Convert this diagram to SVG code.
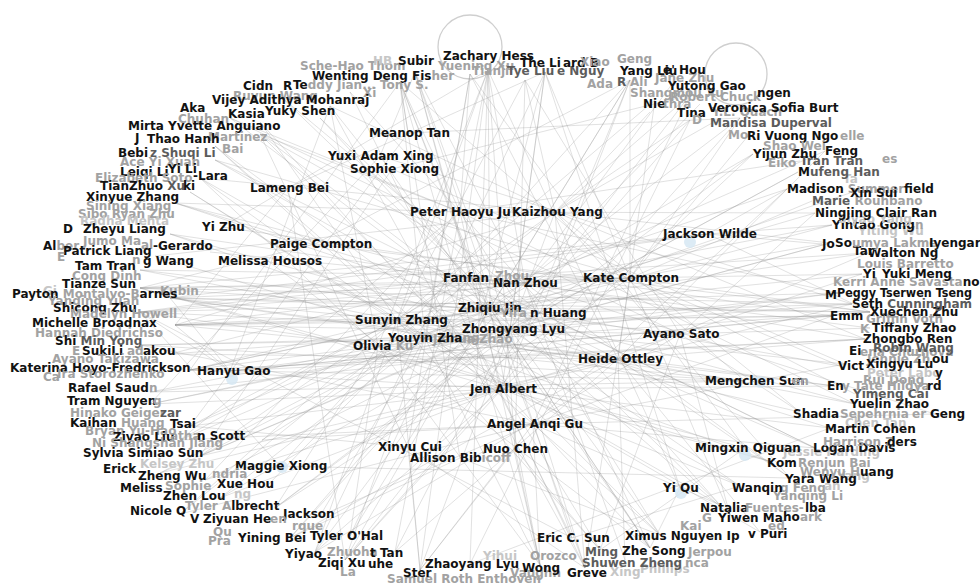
<svg xmlns="http://www.w3.org/2000/svg" width="980" height="586" viewBox="0 0 980 586">
<style>
text{font-family:"DejaVu Sans","Liberation Sans",sans-serif;font-weight:700;font-size:12px}
.b{fill:#121212}.d{fill:#5c5c5c}.g{fill:#a2a2a2}.l{fill:#c6c6c6}
.e path{fill:none;stroke:#8f8f8f;stroke-opacity:.3;stroke-width:.9}
.loop{fill:none;stroke:#cfcfcf;stroke-width:1.3}
.dot{fill:#d3e6f3;opacity:.8}
</style>
<rect width="980" height="586" fill="#fff"/>
<g id="connectors" class="e">
<circle class="loop" cx="470" cy="47" r="32"/>
<circle class="loop" cx="736" cy="74" r="31"/>
<path d="M490 308L488 70M490 308L400 82M490 308L630 80M490 308L330 106M490 308L260 134M490 308L175 203M490 308L170 298M490 308L175 325M490 308L190 370M490 308L180 440M490 308L200 456M490 308L290 538M490 308L345 560M490 308L540 565M490 308L650 548M490 308L730 515M490 308L815 448M490 308L855 404M490 308L870 312M490 308L868 253M490 308L815 213M490 308L753 154M490 308L740 118"/>
<path d="M510 329L415 72M510 329L545 72M510 329L690 95M510 329L230 118M510 329L215 160M510 329L170 234M510 329L140 312M510 329L170 354M510 329L150 404M510 329L205 480M510 329L275 508M510 329L395 552M510 329L585 568M510 329L660 535M510 329L740 486M510 329L830 428M510 329L845 364M510 329L852 304M510 329L830 243M510 329L798 172M510 329L690 120"/>
<path d="M397 320L488 70M397 320L525 80M397 320L655 100M397 320L260 122M397 320L200 178M397 320L140 270M397 320L170 298M397 320L175 325M397 320L190 370M397 320L190 426M397 320L180 514M397 320L315 552M397 320L420 570M397 320L600 550M397 320L720 505M397 320L800 412M397 320L832 316M397 320L862 274M397 320L787 189"/>
<path d="M425 338L400 82M425 338L470 74M425 338L215 146M425 338L190 192M425 338L155 256M425 338L140 345M425 338L150 392M425 338L262 440M425 338L220 498M425 338L320 516M425 338L345 560M425 338L540 565M425 338L760 532M425 338L772 462M425 338L835 386M425 338L838 293M425 338L850 193"/>
<path d="M525 283L488 70M525 283L700 104M525 283L260 134M525 283L210 252M525 283L140 288M525 283L175 325M525 283L160 473M525 283L290 538M525 283L625 560M525 283L790 478M525 283L935 414M525 283L865 339M525 283L832 225M525 283L825 151M525 283L675 80"/>
<path d="M470 278L415 72M470 278L280 96M470 278L320 118M470 278L175 203M470 278L170 234M470 278L140 312M470 278L170 354M470 278L180 440M470 278L265 488M470 278L350 536M470 278L650 548M470 278L815 448M470 278L870 328M470 278L868 253"/>
<path d="M630 278L545 72M630 278L630 80M630 278L740 118M630 278L748 136M630 278L812 201M630 278L822 244M630 278L862 274M630 278L870 312M630 278L840 366M630 278L855 394M630 278L170 298M630 278L140 312M630 278L190 370M630 278L140 288M630 278L140 270M630 278L215 160M630 278L275 508M630 278L585 568M630 278L730 515"/>
<path d="M460 212L488 70M460 212L400 82M460 212L470 74M460 212L350 92M460 212L230 118M460 212L260 134M460 212L175 203M460 212L180 440M460 212L205 480M460 212L395 552M460 212L540 565M460 212L660 535M460 212L720 505M460 212L855 404M460 212L838 293M460 212L815 213M460 212L800 161"/>
<path d="M555 212L525 80M555 212L690 95M555 212L690 120M555 212L650 112M555 212L330 106M555 212L200 178M555 212L155 256M555 212L175 325M555 212L200 456M555 212L180 514M555 212L420 570M555 212L585 568M555 212L790 478M555 212L800 412M555 212L865 339M555 212L830 243M555 212L712 123"/>
<path d="M502 389L415 72M502 389L545 72M502 389L630 80M502 389L260 122M502 389L190 192M502 389L140 288M502 389L190 370M502 389L150 404M502 389L190 426M502 389L160 473M502 389L220 498M502 389L315 552M502 389L345 560M502 389L600 550M502 389L650 548M502 389L740 486M502 389L772 462M502 389L830 428M502 389L835 386M502 389L852 304M502 389L753 154"/>
<path d="M533 424L400 82M533 424L690 95M533 424L215 146M533 424L140 345M533 424L180 440M533 424L262 440M533 424L180 514M533 424L320 516M533 424L420 570M533 424L540 565M533 424L585 568M533 424L660 535M533 424L720 505M533 424L815 448M533 424L935 414M533 424L845 364M533 424L832 316M533 424L787 189"/>
<path d="M618 359L470 74M618 359L655 100M618 359L215 160M618 359L170 298M618 359L170 354M618 359L200 456M618 359L290 538M618 359L395 552M618 359L625 560M618 359L760 532M618 359L790 478M618 359L855 404M618 359L865 339M618 359L868 253M618 359L825 151"/>
<path d="M680 334L525 80M680 334L230 118M680 334L140 270M680 334L175 325M680 334L150 392M680 334L205 480M680 334L315 552M680 334L600 550M680 334L730 515M680 334L800 412M680 334L870 328M680 334L862 274M680 334L815 213"/>
<path d="M378 346L488 70M378 346L330 106M378 346L200 178M378 346L140 312M378 346L190 370M378 346L190 426M378 346L275 508M378 346L350 536M378 346L540 565M378 346L772 462M378 346L870 312M378 346L832 225"/>
<path d="M540 313L415 72M540 313L630 80M540 313L280 96M540 313L175 203M540 313L140 288M540 313L175 325M540 313L200 456M540 313L220 498M540 313L345 560M540 313L650 548M540 313L815 448M540 313L840 366M540 313L852 304M540 313L798 172"/>
<path d="M475 339L545 72M475 339L215 146M475 339L170 234M475 339L140 345M475 339L150 404M475 339L160 473M475 339L315 552M475 339L585 568M475 339L740 486M475 339L835 386M475 339L830 243"/>
<path d="M230 371L170 298M230 371L140 312M230 371L175 325M230 371L330 106M230 371L870 312M230 371L832 316M230 371L865 339M230 371L838 293"/>
<path d="M745 381L190 370M745 381L175 325M745 381L140 345M745 381L170 298M745 381L150 392M745 381L400 82"/>
<path d="M408 447L470 74M408 447L260 134M408 447L420 570M408 447L585 568M408 447L190 426M515 449L488 70M515 449L525 80M515 449L540 565M515 449L600 550M515 449L420 570M460 458L400 82M460 458L290 538M460 458L660 535"/>
<path d="M708 234L170 298M708 234L140 312M708 234L140 288M708 234L787 189M708 234L822 244M708 234L832 225M708 234L870 312M315 244L140 288M315 244L200 178M315 244L630 80M315 244L870 312M268 261L400 82M268 261L190 370M268 261L650 548M222 227L488 70M222 227L832 316M288 188L545 72M288 188L175 325M288 188L345 560"/>
<path d="M380 156L415 72M380 156L150 404M380 156L650 548M380 156L852 304M392 169L690 95M392 169L845 364M392 169L200 456M408 133L400 82M408 133L740 118M408 133L190 426M280 466L630 80M280 466L140 312M280 466L790 478M680 488L545 72M680 488L488 70M680 488L650 548M745 448L470 74M745 448L140 288M745 448L600 550M572 538L415 72M572 538L350 92M572 538L140 312M572 538L740 486M470 564L488 70M470 564L690 120M470 564L830 428"/>
<path d="M170 298L870 312M175 325L832 316M140 312L838 293M190 370L865 339M140 288L852 304M275 508L753 154M400 82L540 565M330 106L585 568M260 134L660 535M320 118L720 505M630 80L350 536M740 118L345 560M488 70L420 570M545 72L315 552"/>
</g>
<g id="nodes">
<g id="n-sche"><text x="300" y="70" class="g">Sche-Hao Thom</text></g>
<g id="n-hb"><text x="373" y="65" class="l">HB</text></g>
<g id="n-yuening"><text x="438" y="70" class="g">Yuening Xu</text></g>
<g id="n-subir"><text x="398" y="65" class="b">Subir</text></g>
<g id="n-zachary"><text x="443" y="60" class="b">Zachary Hess</text></g>
<g id="n-wenting"><text x="312" y="80" class="b">Wenting Deng Fis<tspan class="g">her</tspan></text></g>
<g id="n-tianji"><text x="472" y="75" class="g">Tianji</text></g>
<g id="n-tyeliu"><text x="507" y="75" class="d">Tye Liu</text><text x="557" y="75" class="d">e Nguy</text></g>
<g id="n-theli"><text x="520" y="67" class="b">The Li</text><text x="563" y="67" class="b">ard B</text></g>
<g id="n-xiao"><text x="580" y="66" class="g">Xiao</text><text x="617" y="63" class="g">Geng</text></g>
<g id="n-ada"><text x="587" y="88" class="g">Ada</text><text x="617" y="86" class="d">R</text><text x="630" y="86" class="g">Ali</text></g>
<g id="n-yangliu"><text x="620" y="75" class="b">Yang Liu</text></g>
<g id="n-janezhu"><text x="655" y="82" class="g">Jane Zhu</text></g>
<g id="n-hou"><text x="663" y="74" class="b">e' Hou</text></g>
<g id="n-shangmou"><text x="630" y="97" class="g">Shangmou Xu</text></g>
<g id="n-robert"><text x="670" y="101" class="g">Robert Chuck</text></g>
<g id="n-yutong"><text x="668" y="90" class="b">Yutong Gao</text></g>
<g id="n-ngen"><text x="757" y="97" class="b">ngen</text></g>
<g id="n-nie"><text x="643" y="108" class="b">Nie</text><text x="663" y="108" class="g">thra</text></g>
<g id="n-quach"><text x="712" y="116" class="g">Y.L. Quach</text></g>
<g id="n-tina"><text x="677" y="117" class="b">Tina</text></g>
<g id="n-veronica"><text x="708" y="112" class="b">Veronica Sofia Burt</text></g>
<g id="n-mandisa"><text x="692" y="124" class="g">D</text><text x="710" y="127" class="d">Mandisa Duperval</text></g>
<g id="n-rivuong"><text x="728" y="139" class="g">Mo</text><text x="840" y="140" class="g">elle</text><text x="747" y="140" class="b">Ri Vuong Ngo</text></g>
<g id="n-teddy"><text x="293" y="89" class="b">Te<tspan class="g">ddy Jian...  Tony S.</tspan></text></g>
<g id="n-cidn"><text x="243" y="90" class="b">Cidn</text><text x="283" y="90" class="b">R</text></g>
<g id="n-ruyun"><text x="233" y="100" class="g">Ruyun Wang</text><text x="363" y="97" class="g">Xi</text></g>
<g id="n-vijey"><text x="212" y="104" class="b">Vijey Adithya Mohanraj</text></g>
<g id="n-aka"><text x="180" y="112" class="b">Aka</text></g>
<g id="n-kasia"><text x="228" y="118" class="b">Kasia</text></g>
<g id="n-yuky"><text x="265" y="115" class="b">Yuky Shen</text></g>
<g id="n-chuhan"><text x="178" y="123" class="g">Chuhan</text></g>
<g id="n-mirta"><text x="128" y="130" class="b">Mirta Yvette Anguiano</text></g>
<g id="n-martinez"><text x="135" y="142" class="b">J</text><text x="208" y="141" class="g">Martinez</text></g>
<g id="n-thao"><text x="147" y="143" class="b">Thao Hanh</text></g>
<g id="n-bai"><text x="222" y="153" class="g">Bai</text></g>
<g id="n-bebi"><text x="118" y="157" class="b">Bebi</text><text x="150" y="157" class="d">z Shuqi Li</text></g>
<g id="n-ace"><text x="120" y="166" class="g">Ace Yi Xuan</text></g>
<g id="n-leiqi"><text x="120" y="176" class="b">Leiqi Li</text><text x="168" y="173" class="b">Yi Li</text></g>
<g id="n-lara"><text x="95" y="182" class="g">Elizabeth Soto</text><text x="193" y="180" class="b">-Lara</text></g>
<g id="n-tianzhuo"><text x="100" y="190" class="b">TianZhuo <tspan class="d">Xu</tspan></text><text x="183" y="190" class="b">ki</text></g>
<g id="n-xinyue"><text x="86" y="201" class="b">Xinyue Zhang</text></g>
<g id="n-sining"><text x="86" y="210" class="g">Sining Xiang</text></g>
<g id="n-sibo"><text x="78" y="218" class="g">Sibo Ryan Zhu</text></g>
<g id="n-radha"><text x="80" y="225" class="l">Radha Mehta</text></g>
<g id="n-zheyu"><text x="63" y="233" class="b">D</text><text x="83" y="233" class="b">Zheyu Liang</text></g>
<g id="n-yizhu"><text x="202" y="231" class="b">Yi Zhu</text></g>
<g id="n-jumo"><text x="83" y="245" class="g">Jumo Ma</text></g>
<g id="n-gerardo"><text x="43" y="250" class="b">Al<tspan class="g">ber</tspan></text><text x="141" y="249" class="g">al</text><text x="153" y="250" class="b">-Gerardo</text></g>
<g id="n-patrick"><text x="63" y="255" class="b">Patrick Liang</text></g>
<g id="n-paige"><text x="270" y="248" class="b">Paige Compton</text></g>
<g id="n-wang"><text x="57" y="261" class="g">E</text><text x="132" y="264" class="g">n</text><text x="143" y="265" class="b">g Wang</text></g>
<g id="n-melissa"><text x="218" y="265" class="b">Melissa Housos</text></g>
<g id="n-tam"><text x="75" y="270" class="b">Tam Tran</text></g>
<g id="n-cong"><text x="72" y="280" class="g">Cong Dinh</text></g>
<g id="n-tianze"><text x="62" y="288" class="b">Tianze Sun</text></g>
<g id="n-kubin"><text x="43" y="295" class="l">Gi</text><text x="160" y="295" class="g">Kubin</text></g>
<g id="n-payton"><text x="12" y="298" class="b">Payton <tspan class="g">Montalvo-B</tspan>arnes</text></g>
<g id="n-yanqing"><text x="48" y="305" class="g">Yanqing Yuan</text></g>
<g id="n-shicong"><text x="53" y="312" class="b">Shicong Zhu</text></g>
<g id="n-madelyn"><text x="70" y="318" class="g">Madelyn Howell</text></g>
<g id="n-michelle"><text x="32" y="327" class="b">Michelle Broadnax</text></g>
<g id="n-hannah"><text x="35" y="337" class="g">Hannah Diedrichso</text></g>
<g id="n-shimin"><text x="55" y="345" class="b">Shi <tspan class="d">Min Yong</tspan></text></g>
<g id="n-adakou"><text x="72" y="355" class="g">E</text><text x="127" y="355" class="g">ad</text><text x="143" y="355" class="b">akou</text></g>
<g id="n-sukili"><text x="82" y="355" class="b">SukiLi</text></g>
<g id="n-ayanot"><text x="52" y="363" class="g">Ayano Takizawa</text></g>
<g id="n-katerina"><text x="10" y="372" class="b">Katerina Hoyo-Fredrickson</text></g>
<g id="n-hanyu"><circle class="dot" cx="232" cy="379" r="6"/><text x="197" y="375" class="b">Hanyu Gao</text></g>
<g id="n-ira"><text x="43" y="381" class="g">Ca</text><text x="57" y="378" class="g">Ira Storozhenko</text></g>
<g id="n-rafael"><text x="68" y="392" class="b">Rafael Saud</text><text x="149" y="392" class="g">n</text></g>
<g id="n-tram"><text x="67" y="405" class="b">Tram Nguyen</text><text x="153" y="405" class="g">g</text></g>
<g id="n-hinako"><text x="70" y="417" class="g">Hinako Geiger</text><text x="160" y="417" class="d">zar</text></g>
<g id="n-kaihan"><text x="70" y="427" class="b">Kaihan <tspan class="g">Huang</tspan></text><text x="170" y="428" class="b">Tsai</text></g>
<g id="n-bryan"><text x="85" y="435" class="g">Bryan Yu-Hao</text></g>
<g id="n-ziyao"><text x="113" y="441" class="b">Ziyao Liu</text></g>
<g id="n-scott"><text x="170" y="440" class="g">atha</text><text x="197" y="440" class="b">n Scott</text></g>
<g id="n-ni"><text x="92" y="447" class="g">Ni Shangshan Jiang</text></g>
<g id="n-sylvia"><text x="83" y="457" class="b">Sylvia Simiao Sun</text></g>
<g id="n-kelsey"><text x="140" y="468" class="l">Kelsey Zhu</text></g>
<g id="n-erick"><text x="103" y="473" class="b">Erick</text></g>
<g id="n-maggie"><circle class="dot" cx="282" cy="467" r="6"/><text x="235" y="470" class="b">Maggie Xiong</text></g>
<g id="n-zhengwu"><text x="138" y="480" class="b">Zheng Wu</text><text x="212" y="478" class="g">ndria</text></g>
<g id="n-sophie"><text x="165" y="490" class="g">Sophie</text></g>
<g id="n-meliss"><text x="120" y="492" class="b">Meliss</text></g>
<g id="n-xuehou"><text x="217" y="488" class="b">Xue Hou</text></g>
<g id="n-zhenlou"><text x="163" y="500" class="b">Zhen Lou</text><text x="234" y="498" class="l">ng</text></g>
<g id="n-tylera"><text x="185" y="510" class="g">Tyler A<tspan class="b">lbrecht</tspan></text></g>
<g id="n-nicole"><text x="130" y="515" class="b">Nicole Q</text></g>
<g id="n-jackson"><text x="283" y="518" class="b">Jackson</text></g>
<g id="n-ziyuan"><text x="190" y="523" class="b">V</text><text x="203" y="523" class="b">Ziyuan He</text><text x="270" y="523" class="g">en</text></g>
<g id="n-rque"><text x="292" y="530" class="g">rque</text></g>
<g id="n-qu"><text x="213" y="536" class="g">Qu</text><text x="208" y="545" class="g">Pra</text></g>
<g id="n-yining"><text x="238" y="542" class="b">Yining Bei</text></g>
<g id="n-tylero"><text x="310" y="540" class="b">Tyler O'Hal</text></g>
<g id="n-yiyao"><text x="285" y="558" class="b">Yiyao</text><text x="327" y="556" class="g">Zhuoha</text><text x="370" y="557" class="b">t Tan</text></g>
<g id="n-ziqi"><text x="318" y="567" class="b">Ziqi Xu</text></g>
<g id="n-uhe"><text x="340" y="576" class="g">La</text><text x="368" y="568" class="b">uhe</text></g>
<g id="n-samuel"><text x="387" y="583" class="g">Samuel Roth Enthoven</text></g>
<g id="n-ster"><text x="403" y="577" class="b">Ster</text></g>
<g id="n-orozco"><text x="483" y="560" class="l">Yihui</text><text x="530" y="560" class="g">Orozco</text></g>
<g id="n-vaughn"><text x="510" y="577" class="g">Vaughn</text></g>
<g id="n-zhaoyang"><text x="425" y="568" class="b">Zhaoyang Lyu</text></g>
<g id="n-wong"><text x="522" y="572" class="b">Wong</text></g>
<g id="n-greve"><text x="567" y="577" class="b">Greve</text></g>
<g id="n-eric"><text x="537" y="542" class="b">Eric C. Sun</text></g>
<g id="n-phillips"><text x="610" y="576" class="l">Xing</text><text x="640" y="573" class="l">Phillips</text></g>
<g id="n-shuwen"><text x="582" y="567" class="d">Shuwen Zheng</text><text x="685" y="567" class="g">nca</text></g>
<g id="n-ming"><text x="585" y="556" class="d">Ming</text></g>
<g id="n-zhesong"><text x="622" y="555" class="b">Zhe Song</text><text x="688" y="556" class="g">Jerpou</text></g>
<g id="n-ximus"><text x="625" y="540" class="b">Ximus Nguyen Ip</text><text x="748" y="538" class="b">v Puri</text></g>
<g id="n-kai"><text x="680" y="530" class="g">Kai</text><text x="768" y="530" class="g">ed</text></g>
<g id="n-natalia"><text x="700" y="512" class="b">Natalia</text><text x="745" y="512" class="g">Fuentes-</text><text x="805" y="512" class="b">lba</text></g>
<g id="n-yiwen"><text x="702" y="522" class="g">G</text><text x="718" y="522" class="b">Yiwen Ma</text><text x="783" y="521" class="b">ho</text><text x="800" y="521" class="g">ark</text></g>
<g id="n-yanqingli"><text x="773" y="500" class="g">Yanqing Li</text></g>
<g id="n-yiqu"><circle class="dot" cx="681" cy="493" r="6"/><text x="663" y="492" class="b">Yi Qu</text></g>
<g id="n-wanqin"><text x="780" y="492" class="g">g Feng</text><text x="824" y="490" class="l">an</text><text x="732" y="492" class="b">Wanqin</text></g>
<g id="n-yang"><text x="837" y="480" class="l">Yang</text></g>
<g id="n-yara"><text x="785" y="483" class="b">Yara Wang</text></g>
<g id="n-wenyu"><text x="800" y="476" class="g">Wenyu H<tspan class="b">uang</tspan></text></g>
<g id="n-kom"><text x="767" y="467" class="b">Kom</text><text x="798" y="467" class="g">Renjun Bai</text></g>
<g id="n-jessie"><text x="783" y="456" class="l">Jessie Harding</text></g>
<g id="n-mingxin"><circle class="dot" cx="745" cy="455" r="6"/><text x="695" y="452" class="b">Mingxin Qiguan</text></g>
<g id="n-logan"><text x="813" y="452" class="b">Logan Davis</text></g>
<g id="n-harrison"><text x="823" y="446" class="g">Harrison Z</text><text x="887" y="446" class="b">ders</text></g>
<g id="n-chen"><text x="845" y="427" class="l">Chen Tan</text></g>
<g id="n-martin"><text x="825" y="433" class="b">Martin Cohen</text></g>
<g id="n-shadia"><text x="840" y="418" class="g">Sepehrnia</text><text x="912" y="418" class="g">er</text><text x="793" y="418" class="b">Shadia</text><text x="930" y="418" class="b">Geng</text></g>
<g id="n-yuelin"><text x="850" y="408" class="b">Yuelin Zhao</text></g>
<g id="n-yimeng"><text x="853" y="398" class="d">Yimeng Cai</text></g>
<g id="n-tate"><text x="842" y="390" class="g">y Tate Hildya</text><text x="827" y="390" class="b">En</text><text x="927" y="390" class="b">rd</text></g>
<g id="n-rui"><text x="863" y="384" class="g">Rui Dong</text></g>
<g id="n-laboy"><text x="867" y="377" class="l">Peter Labo</text><text x="935" y="377" class="b">y</text></g>
<g id="n-jennie"><text x="867" y="363" class="g">Jennie Zh</text><text x="932" y="363" class="b">ou</text></g>
<g id="n-xingyu"><text x="838" y="370" class="b">Vict</text><text x="866" y="368" class="b">Xingyu Lu</text></g>
<g id="n-elena"><text x="860" y="356" class="g">ena Churnova</text><text x="849" y="355" class="b">Ei</text></g>
<g id="n-robin"><text x="873" y="352" class="d">Robin Wang</text></g>
<g id="n-zhongbo"><text x="863" y="343" class="b">Zhongbo Ren</text></g>
<g id="n-tiffany"><text x="860" y="333" class="g">K</text><text x="872" y="332" class="b">Tiffany Zhao</text></g>
<g id="n-griffin"><text x="866" y="323" class="g">Griffin Voth</text></g>
<g id="n-xuechen"><text x="830" y="320" class="b">Emm</text><text x="870" y="316" class="b">Xuechen Zhu</text></g>
<g id="n-seth"><text x="852" y="308" class="b">Seth <tspan class="d">Cunningham</tspan></text></g>
<g id="n-peggy"><text x="825" y="299" class="b">M</text><text x="837" y="297" class="b" textLength="135" lengthAdjust="spacingAndGlyphs">Peggy Tserwen Tseng</text></g>
<g id="n-kerri"><text x="833" y="286" class="g">Kerri Anne Savasta<tspan class="b">no</tspan></text></g>
<g id="n-yiyuki"><text x="863" y="278" class="b">Yi</text><text x="882" y="278" class="b">Yuki Meng</text></g>
<g id="n-louis"><text x="857" y="268" class="g">Louis Barretto</text></g>
<g id="n-walton"><text x="853" y="255" class="b">Tar</text><text x="868" y="257" class="b">Walton Ng</text></g>
<g id="n-soumya"><text x="822" y="248" class="b">Jo</text><text x="835" y="247" class="b">So</text><text x="852" y="247" class="g">umya Lakme</text><text x="929" y="247" class="b">Iyengar</text></g>
<g id="n-yiting"><text x="858" y="235" class="l">Yiting Wu</text></g>
<g id="n-yintao"><text x="832" y="229" class="b">Yintao Gong</text><text x="915" y="229" class="g">n</text></g>
<g id="n-siyao"><text x="838" y="223" class="l">Siyao Yang</text></g>
<g id="n-ningjing"><text x="815" y="217" class="b">Ningjing Clair Ran</text></g>
<g id="n-marie"><text x="812" y="205" class="d">Marie <tspan class="g">Rouhbano</tspan></text></g>
<g id="n-madison"><text x="787" y="193" class="b">Madison <tspan class="g">Summer</tspan>field</text></g>
<g id="n-xinsui"><text x="850" y="197" class="b">Xin Sui</text></g>
<g id="n-ta"><text x="843" y="183" class="l">Ta</text></g>
<g id="n-mufeng"><text x="798" y="176" class="b">M<tspan class="d">ufeng Han</tspan></text></g>
<g id="n-tran"><text x="768" y="167" class="g">Eiko</text><text x="800" y="165" class="d">Tran Tran</text><text x="882" y="163" class="g">es</text></g>
<g id="n-yijun"><text x="753" y="158" class="b">Yijun Zhu</text></g>
<g id="n-feng"><text x="763" y="150" class="g">Shao Wei</text><text x="825" y="155" class="b">Feng</text></g>
<g id="n-meanop"><text x="369" y="137" class="b">Meanop Tan</text></g>
<g id="n-yuxi"><text x="328" y="160" class="b">Yuxi Adam Xing</text></g>
<g id="n-sophiex"><text x="350" y="173" class="b">Sophie Xiong</text></g>
<g id="n-lameng"><text x="250" y="192" class="b">Lameng Bei</text></g>
<g id="n-peter"><text x="410" y="216" class="b">Peter Haoyu Ju</text></g>
<g id="n-kaizhou"><text x="512" y="216" class="b">Kaizhou Yang</text></g>
<g id="n-jacksonw"><circle class="dot" cx="690" cy="242" r="6"/><text x="663" y="238" class="b">Jackson Wilde</text></g>
<g id="n-fanfan"><text x="443" y="282" class="b">Fanfan</text><text x="495" y="280" class="g">Zhou</text></g>
<g id="n-nanzhou"><text x="493" y="287" class="b">Nan Zhou</text></g>
<g id="n-kate"><text x="583" y="282" class="b">Kate Compton</text></g>
<g id="n-zhiqiu"><text x="458" y="312" class="b">Zhiqiu Jin</text></g>
<g id="n-yiran"><text x="500" y="317" class="g">Yira</text><text x="530" y="317" class="b">n Huang</text></g>
<g id="n-sunyin"><text x="355" y="324" class="b">Sunyin Zhang</text></g>
<g id="n-jiehua"><text x="433" y="343" class="g">Jiehua Zhao</text></g>
<g id="n-zhongyang"><text x="462" y="333" class="b">Zhongyang Lyu</text></g>
<g id="n-youyin"><text x="388" y="342" class="b">Youyin Zha<tspan class="g">ng</tspan></text></g>
<g id="n-olivia"><text x="353" y="350" class="b">Olivia <tspan class="g">Ku</tspan></text></g>
<g id="n-ayano"><text x="643" y="338" class="b">Ayano Sato</text></g>
<g id="n-heide"><text x="578" y="363" class="b">Heide Ottley</text></g>
<g id="n-mengchen"><circle class="dot" cx="760" cy="382" r="6"/><text x="705" y="385" class="b">Mengchen Sun</text><text x="792" y="385" class="g">en</text></g>
<g id="n-jen"><text x="470" y="393" class="b">Jen Albert</text></g>
<g id="n-angel"><text x="487" y="428" class="b">Angel Anqi Gu</text></g>
<g id="n-xinyu"><text x="378" y="451" class="b">Xinyu Cui</text></g>
<g id="n-allison"><text x="410" y="462" class="b">Allison Bib<tspan class="g">icoff</tspan></text></g>
<g id="n-nuo"><text x="483" y="453" class="b">Nuo Chen</text></g>
</g>
</svg>
